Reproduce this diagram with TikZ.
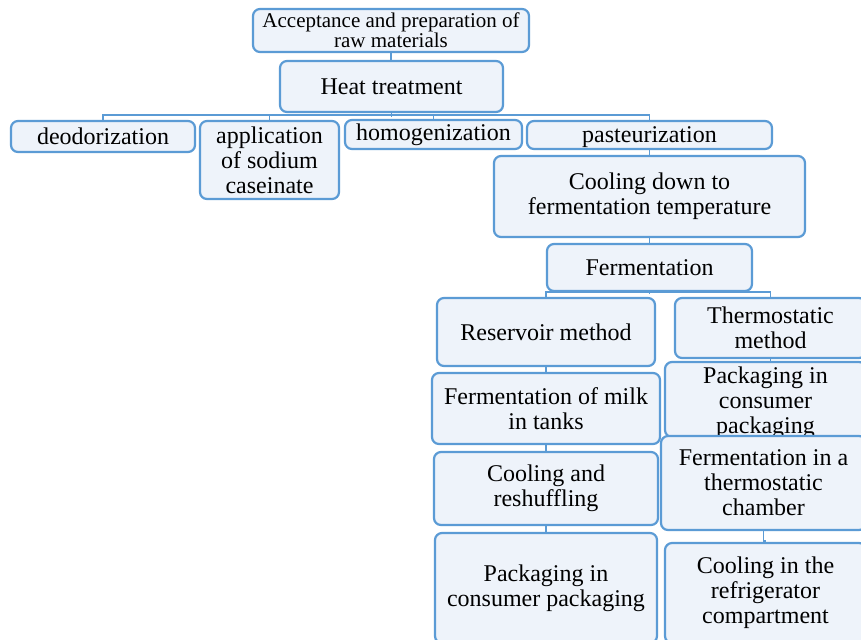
\documentclass[tikz,border=0pt]{standalone}
\usepackage{fontspec}
\setmainfont{Liberation Serif}
\definecolor{boxfill}{HTML}{EEF3FA}
\definecolor{boxdraw}{HTML}{5B9BD5}
\tikzset{
 box/.style={draw=boxdraw, fill=boxfill, line width=1.1pt, rounded corners=3.5pt, align=center, inner sep=0pt, font=\fontsize{12}{12.5}\selectfont},
 conn/.style={draw=boxdraw, line width=0.8pt},
}
\newcommand{\bx}[7][]{\node[box,#1, minimum width={(#5-#3)*0.5pt}, minimum height={(#6-#4)*0.5pt}] (#2) at ({(#3+#5)/2},{(#4+#6)/2}) {#7};}
\newcommand{\lowr}[2][1.8pt]{\raisebox{-#1}[\height][\depth]{#2}}
\begin{document}
\begin{tikzpicture}[x=0.5pt,y=-0.5pt]
\useasboundingbox (0,0) rectangle (861,639);
\fill[white] (0,0) rectangle (861,639);
\clip (0,0) rectangle (861,639);
\bx[font=\fontsize{10.5}{10}\selectfont]{acc}{253}{9}{529}{52}{Acceptance and preparation of\\raw materials}
\bx{heat}{280}{61}{503}{112}{Heat treatment}
\bx{deo}{11}{121}{195}{152}{deodorization}
\bx{app}{200}{121}{339}{199}{application\\of sodium\\caseinate}
\bx{hom}{345}{120}{522}{149}{homogenization}
\bx{pas}{527}{121}{772}{149}{\lowr[1pt]{pasteurization}}
\bx{cool}{494}{156}{805}{237}{Cooling down to\\fermentation temperature}
\bx{ferm}{547}{244}{752}{291}{Fermentation}
\bx{res}{437}{298}{655}{366}{Reservoir method}
\bx{thm}{675}{298}{866}{358}{Thermostatic\\method}
\bx{fmilk}{432}{373}{660}{444}{Fermentation of milk\\in tanks}
\bx{packR}{665}{366}{866}{433}{\lowr{\begin{tabular}{@{}c@{}}Packaging in\\consumer\\packaging\end{tabular}}}
\bx{coolr}{434}{452}{658}{525}{Cooling and\\reshuffling}
\bx{fthm}{661}{436}{866}{530}{Fermentation in a\\thermostatic\\chamber}
\bx{packL}{435}{533}{657}{643}{Packaging in\\consumer packaging}
\bx{cref}{665}{543}{866}{643}{Cooling in the\\refrigerator\\compartment}
% connectors
\draw[conn] (acc.south) -- (acc.south |- heat.north);
\draw[conn] (heat.south) -- ++(0,4);
\draw[conn] (deo.north) -- ++(0,-5) -| (pas.north);
\draw[conn] (app.north) -- ++(0,-5);
\draw[conn] (hom.north) -- ++(0,-4);
\draw[conn] (pas.south) -- (pas.south |- cool.north);
\draw[conn] (cool.south) -- (cool.south |- ferm.north);
\draw[conn] (ferm.south) -- ++(0,2);
\draw[conn] (res.north) -- ++(0,-5) -| (thm.north);
\draw[conn] (res.south) -- (res.south |- fmilk.north);
\draw[conn] (fmilk.south) -- (fmilk.south |- coolr.north);
\draw[conn] (coolr.south) -- (coolr.south |- packL.north);
\draw[conn] (thm.south) -- (thm.south |- packR.north);
\draw[conn] (fthm.south) -- ++(0,10) -| (cref.north);
\end{tikzpicture}
\end{document}
